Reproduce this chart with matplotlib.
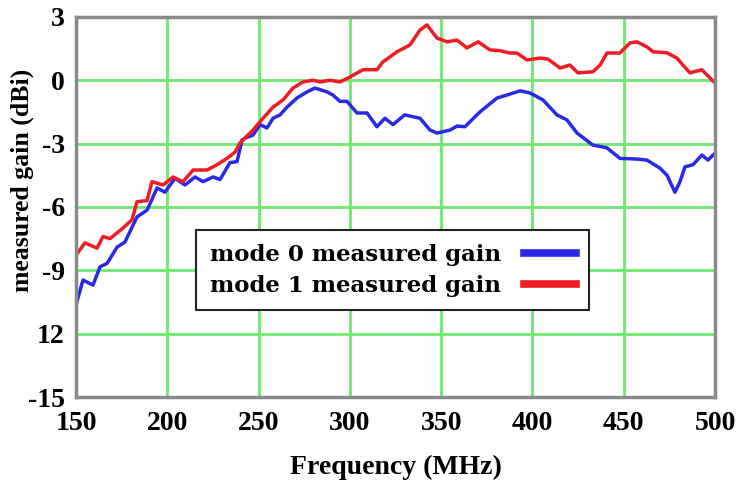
import matplotlib.pyplot as plt

# mode 1 (red) measured gain
freq_m1 = [150, 154.9, 161.5, 164.8, 168.6, 175.7, 180.7, 183.4, 188.9, 191.6,
           197.6, 203.1, 208.6, 214.1, 221.7, 227.2, 232.7, 237.1, 239.8, 246.9,
           252.4, 257.9, 263.4, 268.8, 274.3, 279.8, 283.6, 289.1, 294.6, 300.1,
           307.2, 314.8, 318.1, 325.8, 332.9, 338.4, 342.2, 347.7, 353.2, 358.7,
           364.1, 370.2, 376.7, 382.2, 387.7, 391.5, 397.0, 404.1, 408.5, 415.1,
           420.5, 424.9, 433.1, 437.0, 440.8, 447.9, 453.4, 457.2, 462.7, 466.0,
           473.7, 479.1, 486.2, 492.8, 495.6, 500]
gain_m1 = [-8.28, -7.7, -7.95, -7.4, -7.5, -7.0, -6.6, -5.75, -5.7, -4.8,
           -4.96, -4.58, -4.8, -4.25, -4.25, -4.0, -3.7, -3.4, -2.97, -2.36,
           -1.8, -1.27, -0.93, -0.37, -0.08, 0.0, -0.08, 0.0, -0.08, 0.16,
           0.5, 0.5, 0.87, 1.35, 1.67, 2.38, 2.62, 2.0, 1.82, 1.9,
           1.53, 1.82, 1.44, 1.4, 1.29, 1.29, 0.96, 1.05, 1.0, 0.58,
           0.72, 0.35, 0.4, 0.72, 1.29, 1.29, 1.77, 1.82, 1.58, 1.35,
           1.3, 1.05, 0.35, 0.5, 0.25, -0.13]

# mode 0 (blue) measured gain
freq_m0 = [150, 153.8, 159.3, 163.1, 167.0, 172.5, 176.8, 183.4, 188.9, 194.4,
           198.7, 204.2, 209.7, 215.2, 219.6, 225.0, 228.9, 234.3, 238.2, 240.9,
           243.6, 246.9, 250.8, 254.6, 257.9, 261.7, 265.6, 271.0, 276.5, 280.9,
           287.5, 290.7, 294.6, 298.4, 303.9, 309.4, 314.8, 319.2, 323.6, 330.0,
           338.4, 343.9, 347.7, 354.8, 358.7, 363.0, 371.2, 380.6, 386.0, 393.2,
           398.6, 405.7, 413.4, 418.9, 424.4, 433.1, 440.8, 447.9, 457.2, 462.7,
           469.8, 473.7, 478.0, 480.8, 483.5, 487.9, 492.8, 496.1, 500]
gain_m0 = [-10.65, -9.46, -9.7, -8.84, -8.67, -7.9, -7.66, -6.47, -6.15, -5.1,
           -5.3, -4.64, -4.96, -4.58, -4.8, -4.58, -4.7, -3.9, -3.85, -2.83,
           -2.7, -2.6, -2.1, -2.26, -1.8, -1.64, -1.27, -0.84, -0.55, -0.37,
           -0.55, -0.7, -1.0, -1.0, -1.55, -1.55, -2.2, -1.8, -2.1, -1.64,
           -1.8, -2.36, -2.5, -2.36, -2.17, -2.2, -1.5, -0.84, -0.7, -0.5,
           -0.6, -0.93, -1.64, -1.88, -2.5, -3.07, -3.2, -3.7, -3.73, -3.78,
           -4.16, -4.5, -5.3, -4.8, -4.1, -4.0, -3.54, -3.78, -3.45]

x_ticks = [150, 200, 250, 300, 350, 400, 450, 500]
y_ticks = [3, 0, -3, -6, -9, -12, -15]
y_tick_labels = ['3', '0', '-3', '-6', '-9', '12', '-15']

plt.rcParams['font.family'] = ['Liberation Serif', 'DejaVu Serif']
plt.rcParams['font.weight'] = 'bold'

fig = plt.figure(figsize=(7.41, 4.83), dpi=100)
ax = fig.add_axes([0.1026, 0.178, 0.8624, 0.787])

ax.plot(freq_m0, gain_m0, color='#2a2ae6', lw=2.5, label='mode 0 measured gain')
ax.plot(freq_m1, gain_m1, color='#f01c24', lw=2.5, label='mode 1 measured gain')

ax.set_xlim(150, 500)
ax.set_ylim(-15, 3)
ax.set_xticks(x_ticks)
ax.set_yticks(y_ticks)
ax.set_yticklabels(y_tick_labels)
ax.tick_params(length=0, labelsize=20)
ax.tick_params(axis='x', pad=10)
ax.tick_params(axis='y', pad=8)
ax.grid(True, color='#6ee86e', lw=2)
ax.set_axisbelow(True)
for s in ax.spines.values():
    s.set_color('#8a8a8a')
    s.set_linewidth(2.5)

ax.set_xlabel('Frequency (MHz)', fontsize=20, fontweight='bold')
ax.set_ylabel('measured gain (dBi)', fontsize=18.5, fontweight='bold')
ax.xaxis.set_label_coords(0.5, -0.153)
ax.yaxis.set_label_coords(-0.066, 0.571)

leg = ax.legend(loc='upper left', bbox_to_anchor=(0.188, 0.44), markerfirst=False,
                fancybox=False, framealpha=1, edgecolor='#222222',
                prop={'family': 'DejaVu Serif', 'weight': 'bold', 'size': 16.5},
                handlelength=2.25, borderpad=0.6, labelspacing=0.4,
                handletextpad=1.0, borderaxespad=0)
leg.get_frame().set_linewidth(1.5)
for line in leg.get_lines():
    line.set_linewidth(5.5)

fig.savefig('out.png', dpi=100)
